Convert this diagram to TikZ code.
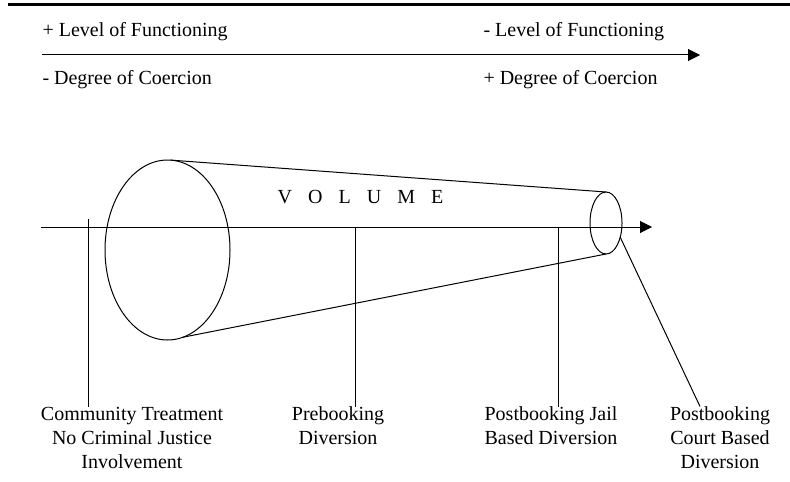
\documentclass[tikz,border=0pt]{standalone}
\usepackage{fontspec}
\setmainfont{Liberation Serif}
\usetikzlibrary{shapes.geometric,arrows.meta}

\tikzset{
  lbl/.style={font=\fontsize{10}{12}\selectfont, align=center, inner sep=0pt, anchor=north},
  toptxt/.style={font=\fontsize{10}{12}\selectfont, inner sep=0pt, anchor=base west},
  rim/.style={draw, ellipse, inner sep=0pt, outer sep=0pt},
  axisarrow/.style={-{Triangle[length=6pt,width=6pt]}},
}

\begin{document}
\begin{tikzpicture}[x=0.5pt,y=0.5pt,yscale=-1,xscale=1,line width=0.5pt]
\useasboundingbox (0,0) rectangle (790,481);

%Straight Lines [id:toprule]
\draw [line width=1.5pt] (8,5) -- (790,5) ;

% Text Node
\node [toptxt] (lvlplus) at (42,37) {+ Level of Functioning};
% Text Node
\node [toptxt] (lvlminus) at (483,37) {- Level of Functioning};
%Straight Lines [id:scale arrow]
\coordinate (scaleL) at (42,55);
\coordinate (scaleR) at (700,55);
\draw [axisarrow] (scaleL) -- (scaleR) ;
% Text Node
\node [toptxt] (coerminus) at (42,84) {- Degree of Coercion};
% Text Node
\node [toptxt] (coerplus) at (483,84) {+ Degree of Coercion};

%Shape: Ellipse [id:big rim]
\node [rim, minimum width=62.5pt, minimum height=90pt] (bigrim) at (167.5,250) {};
%Shape: Ellipse [id:small rim]
\node [rim, minimum width=16pt, minimum height=31pt] (smallrim) at (606,223) {};
%Straight Lines [id:cone]
\draw (bigrim.88) -- (smallrim.north) ;
\draw (bigrim.-80) -- (smallrim.south) ;

% Text Node
\node [font=\fontsize{10}{12}\selectfont, inner sep=0pt, anchor=base] (volume) at (360.5,203)
  {V\hspace{0.8em}O\hspace{0.8em}L\hspace{0.8em}U\hspace{0.8em}M\hspace{0.8em}E};

%Straight Lines [id:axis]
\coordinate (axisL) at (41,227);
\coordinate (axisR) at (652,227);
\draw [axisarrow] (axisL) -- (axisR) ;

% Text Node
\node [lbl] (commlbl) at (132,406.5) {Community Treatment\\No Criminal Justice\\Involvement};
% Text Node
\node [lbl] (prelbl) at (338,406.5) {Prebooking\\Diversion};
% Text Node
\node [lbl] (jaillbl) at (551,406.5) {Postbooking Jail\\Based Diversion};
% Text Node
\node [lbl] (courtlbl) at (720,406.5) {Postbooking\\Court Based\\Diversion};

%Straight Lines [id:ticks]
\coordinate (commtick) at (88,219);
\coordinate (pretick) at (355,227);
\coordinate (jailtick) at (558,227);
\draw (commtick) -- (commtick |- commlbl.north) ;
\draw (pretick) -- (pretick |- prelbl.north) ;
\draw (jailtick) -- (jailtick |- jaillbl.north) ;
\draw (smallrim.-45) -- ([xshift=-10pt]courtlbl.north) ;
\end{tikzpicture}
\end{document}
